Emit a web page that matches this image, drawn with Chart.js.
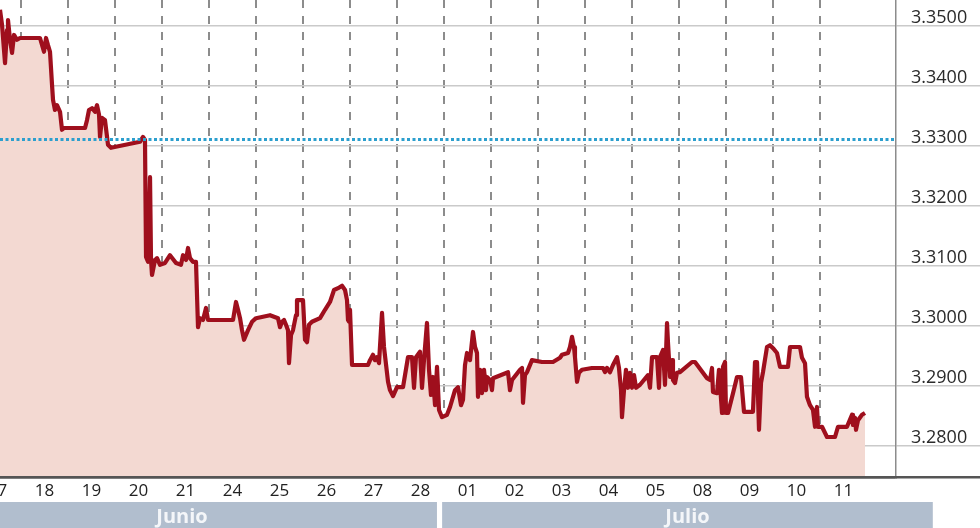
<!DOCTYPE html>
<html>
<head>
<meta charset="utf-8">
<script src="https://cdn.jsdelivr.net/npm/chart.js@4.4.1/dist/chart.umd.min.js"></script>
<style>
    html, body { margin: 0; padding: 0; background: #fff; }
    #wrap { width: 980px; height: 528px; position: relative; }
</style>
</head>
<body>
<div id="wrap"><canvas id="tipo_cambio_chart"></canvas></div>
<script>
// trading days shown on the axis, one slot each (17 Jun .. 11 Jul)
const dayLabels = ['17', '18', '19', '20', '21', '24', '25', '26', '27', '28',
    '01', '02', '03', '04', '05', '08', '09', '10', '11'];

// month bands under the day labels (in day slots)
const monthNames = ['Junio', 'Julio'];
const monthFrom = [-1, 9.96];
const monthTo = [9.85, 20.4];

// time in day slots (0 = start of the 17th) and exchange rate
const times = [
    0.553, 0.596, 0.660, 0.702, 0.723, 0.766, 0.809, 0.851, 0.915, 0.979,
    1.404, 1.489, 1.532, 1.574, 1.617, 1.660, 1.681, 1.723, 1.766, 1.830,
    1.872, 1.915, 2.362, 2.404, 2.447, 2.511, 2.574, 2.617, 2.660, 2.681,
    2.723, 2.787, 2.851, 2.915, 3.532, 3.596, 3.638, 3.660, 3.702, 3.745,
    3.766, 3.787, 3.851, 3.894, 3.957, 4.064, 4.170, 4.298, 4.404, 4.447,
    4.511, 4.553, 4.596, 4.660, 4.723, 4.766, 4.809, 4.872, 4.936, 4.979,
    5.511, 5.574, 5.617, 5.660, 5.702, 5.745, 5.787, 5.830, 5.915, 6.000,
    6.298, 6.468, 6.511, 6.553, 6.596, 6.638, 6.681, 6.702, 6.745, 6.787,
    6.851, 6.872, 7.000, 7.043, 7.085, 7.128, 7.191, 7.362, 7.468, 7.574,
    7.660, 7.745, 7.830, 7.894, 7.936, 7.957, 7.979, 8.000, 8.043, 8.383,
    8.426, 8.489, 8.532, 8.574, 8.617, 8.681, 8.723, 8.787, 8.809, 8.851,
    8.915, 9.000, 9.128, 9.234, 9.319, 9.362, 9.404, 9.489, 9.532, 9.574,
    9.638, 9.681, 9.723, 9.766, 9.809, 9.851, 9.894, 9.957, 10.064, 10.128,
    10.234, 10.298, 10.362, 10.404, 10.447, 10.489, 10.553, 10.617, 10.660, 10.702,
    10.723, 10.766, 10.809, 10.851, 10.894, 10.915, 10.979, 11.021, 11.043, 11.362,
    11.404, 11.447, 11.617, 11.660, 11.681, 11.723, 11.766, 11.872, 12.085, 12.319,
    12.468, 12.511, 12.638, 12.681, 12.723, 12.766, 12.787, 12.830, 12.872, 12.936,
    13.149, 13.383, 13.426, 13.468, 13.532, 13.596, 13.681, 13.723, 13.766, 13.787,
    13.830, 13.872, 13.915, 13.957, 14.000, 14.043, 14.085, 14.170, 14.340, 14.383,
    14.426, 14.532, 14.574, 14.596, 14.660, 14.702, 14.745, 14.766, 14.809, 14.851,
    14.872, 14.915, 14.957, 15.021, 15.277, 15.340, 15.596, 15.660, 15.702, 15.723,
    15.809, 15.851, 15.915, 15.936, 15.979, 16.000, 16.043, 16.149, 16.234, 16.319,
    16.383, 16.574, 16.617, 16.660, 16.702, 16.745, 16.787, 16.872, 16.936, 17.000,
    17.085, 17.149, 17.319, 17.362, 17.574, 17.617, 17.681, 17.723, 17.787, 17.851,
    17.894, 17.936, 17.957, 18.043, 18.149, 18.319, 18.383, 18.574, 18.681, 18.702,
    18.745, 18.766, 18.809, 18.894, 18.957
];
const rates = [
    3.3527, 3.3502, 3.3438, 3.3493, 3.3510, 3.3477, 3.3455, 3.3485, 3.3477, 3.3480,
    3.3480, 3.3457, 3.3480, 3.3468, 3.3457, 3.3402, 3.3377, 3.3360, 3.3368, 3.3357,
    3.3327, 3.3330, 3.3330, 3.3343, 3.3360, 3.3363, 3.3357, 3.3368, 3.3352, 3.3315,
    3.3347, 3.3343, 3.3302, 3.3297, 3.3307, 3.3315, 3.3310, 3.3115, 3.3107, 3.3248,
    3.3110, 3.3085, 3.3110, 3.3113, 3.3102, 3.3105, 3.3118, 3.3105, 3.3102, 3.3118,
    3.3110, 3.3130, 3.3113, 3.3107, 3.3107, 3.2998, 3.3013, 3.3010, 3.3030, 3.3010,
    3.3010, 3.3040, 3.3027, 3.3013, 3.2993, 3.2977, 3.2985, 3.2993, 3.3007, 3.3013,
    3.3018, 3.3013, 3.2998, 3.3007, 3.3010, 3.3002, 3.2993, 3.2938, 3.2985, 3.2993,
    3.3018, 3.3043, 3.3043, 3.2977, 3.2973, 3.3002, 3.3007, 3.3013, 3.3027, 3.3040,
    3.3060, 3.3063, 3.3067, 3.3060, 3.3043, 3.3010, 3.3007, 3.3027, 3.2935, 3.2935,
    3.2943, 3.2952, 3.2943, 3.2948, 3.2938, 3.3022, 3.2965, 3.2922, 3.2907, 3.2893,
    3.2883, 3.2898, 3.2898, 3.2948, 3.2948, 3.2897, 3.2948, 3.2957, 3.2897, 3.2943,
    3.3005, 3.2927, 3.2885, 3.2915, 3.2868, 3.2932, 3.2860, 3.2848, 3.2852, 3.2865,
    3.2893, 3.2898, 3.2868, 3.2877, 3.2935, 3.2955, 3.2943, 3.2990, 3.2965, 3.2955,
    3.2882, 3.2927, 3.2888, 3.2927, 3.2893, 3.2915, 3.2910, 3.2893, 3.2913, 3.2923,
    3.2893, 3.2910, 3.2927, 3.2930, 3.2872, 3.2918, 3.2923, 3.2943, 3.2940, 3.2940,
    3.2947, 3.2952, 3.2955, 3.2965, 3.2982, 3.2965, 3.2948, 3.2907, 3.2922, 3.2927,
    3.2930, 3.2930, 3.2923, 3.2930, 3.2923, 3.2935, 3.2948, 3.2930, 3.2893, 3.2848,
    3.2893, 3.2927, 3.2897, 3.2922, 3.2897, 3.2918, 3.2897, 3.2902, 3.2918, 3.2897,
    3.2948, 3.2948, 3.2897, 3.2948, 3.2960, 3.2902, 3.3005, 3.2972, 3.2915, 3.2943,
    3.2910, 3.2905, 3.2922, 3.2923, 3.2940, 3.2940, 3.2913, 3.2910, 3.2930, 3.2890,
    3.2888, 3.2927, 3.2855, 3.2932, 3.2940, 3.2855, 3.2855, 3.2888, 3.2915, 3.2915,
    3.2857, 3.2857, 3.2940, 3.2940, 3.2827, 3.2905, 3.2923, 3.2965, 3.2968, 3.2963,
    3.2955, 3.2932, 3.2932, 3.2965, 3.2965, 3.2947, 3.2938, 3.2882, 3.2868, 3.2860,
    3.2832, 3.2865, 3.2832, 3.2832, 3.2815, 3.2815, 3.2832, 3.2832, 3.2852, 3.2835,
    3.2847, 3.2827, 3.2843, 3.2852, 3.2855
];

// dotted reference level
const refLevel = 3.3311;

// y axis
const yTickValues = [3.28, 3.29, 3.30, 3.31, 3.32, 3.33, 3.34, 3.35];
const yMin = 3.27483;
const yMax = 3.35433;
const xMin = 0.553;
const xMax = 19.617;

Chart.defaults.font.family = '"Open Sans", sans-serif';

const points = times.map((t, i) => ({ x: t, y: rates[i] }));

const monthBands = {
    id: 'monthBands',
    afterDraw(chart) {
        const ctx = chart.ctx;
        const x = chart.scales.x;
        const top = x.bottom;
        const bottom = chart.height;
        ctx.save();
        for (let i = 0; i < monthNames.length; i++) {
            const l = x.getPixelForValue(monthFrom[i]);
            const r = x.getPixelForValue(monthTo[i]);
            ctx.fillStyle = '#b1bece';
            ctx.fillRect(l, top, r - l, bottom - top);
            ctx.fillStyle = '#f4f6f9';
            ctx.font = 'bold 20px "Open Sans"';
            ctx.textAlign = 'center';
            ctx.textBaseline = 'middle';
            ctx.fillText(monthNames[i], (l + r) / 2, (top + bottom) / 2 + 2);
        }
        ctx.restore();
    }
};

const tcc = document.getElementById('tipo_cambio_chart');
new Chart(tcc, {
    type: 'line',
    data: {
        datasets: [{
            label: 'Referencia',
            data: [{ x: xMin, y: refLevel }, { x: xMax, y: refLevel }],
            borderColor: '#2c9fce',
            borderWidth: 3,
            borderDash: [3, 2.5],
            pointRadius: 0,
            fill: false,
            order: 0
        }, {
            label: 'Tipo de cambio',
            data: points,
            borderColor: '#9f0f1d',
            backgroundColor: '#f3d9d2',
            borderWidth: 4.2,
            borderJoinStyle: 'round',
            pointRadius: 0,
            tension: 0,
            fill: 'start',
            order: 1
        }]
    },
    options: {
        responsive: true,
        maintainAspectRatio: false,
        animation: false,
        devicePixelRatio: 1,
        layout: { padding: { left: 0, right: 0, top: 0, bottom: 26 } },
        plugins: {
            legend: { display: false },
            tooltip: { enabled: false }
        },
        scales: {
            x: {
                type: 'linear',
                min: xMin,
                max: xMax,
                afterBuildTicks: function(s) {
                    const t = [];
                    for (let i = 0; i < dayLabels.length; i++) {
                        if (i > 0) t.push({ value: i });
                        t.push({ value: i + 0.5 });
                    }
                    s.ticks = t;
                },
                afterFit: function(s) {
                    s.height = 25;
                    s.paddingLeft = 0;
                    s.paddingRight = 0;
                },
                grid: {
                    color: ctx => Number.isInteger(ctx.tick.value) ? '#8c8c8c' : 'rgba(0,0,0,0)',
                    lineWidth: 2,
                    drawTicks: false
                },
                // bottom axis line sits over the fill, grid lines take the dash
                border: { display: true, color: '#555', width: 2.5, z: 1, dash: [8, 8] },
                ticks: {
                    autoSkip: false,
                    maxRotation: 0,
                    padding: 4,
                    color: '#222',
                    font: { size: 17 },
                    callback: v => Number.isInteger(v) ? '' : dayLabels[Math.floor(v)]
                }
            },
            y: {
                type: 'linear',
                position: 'right',
                min: yMin,
                max: yMax,
                afterBuildTicks: function(s) {
                    s.ticks = [yMin].concat(yTickValues).map(v => ({ value: v }));
                },
                afterFit: function(s) {
                    s.width = 84;
                    s.paddingTop = 0;
                    s.paddingBottom = 0;
                },
                grid: {
                    color: ctx => ctx.tick.value === yMin ? '#555' : '#cacaca',
                    lineWidth: ctx => ctx.tick.value === yMin ? 2.5 : 1.5,
                    drawTicks: true,
                    tickLength: 84
                },
                border: { display: true, color: '#8c8c8c', width: 1.5 },
                ticks: {
                    padding: -69,
                    labelOffset: -8,
                    color: '#2a2a2a',
                    font: { size: 18 },
                    callback: v => v === yMin ? '' : v.toFixed(4)
                }
            }
        }
    },
    plugins: [monthBands]
});
</script>
</body>
</html>
